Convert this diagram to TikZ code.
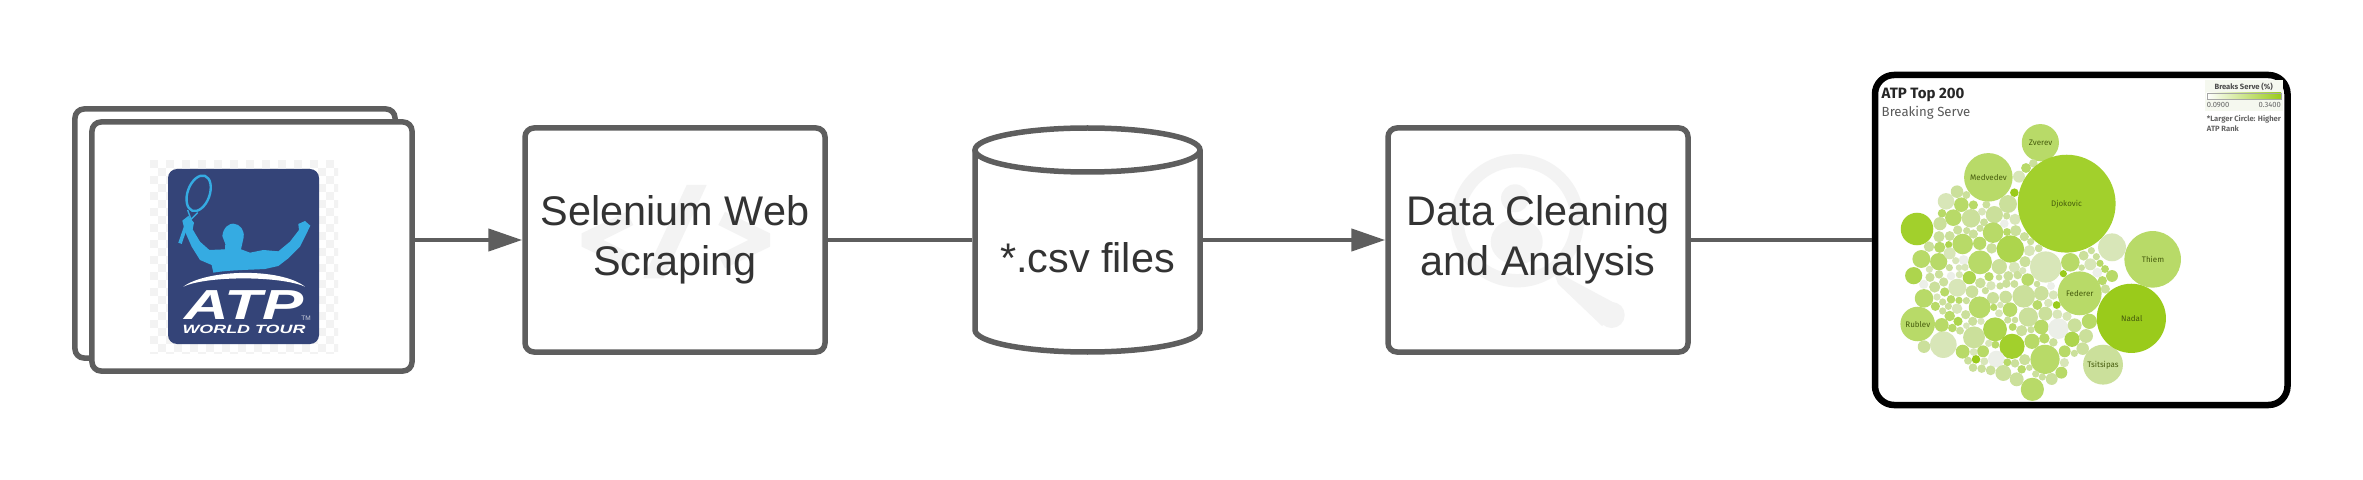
\documentclass[tikz,border=0pt]{standalone}
\usepackage{fontspec}
\setmainfont{Liberation Sans}
\newfontfamily\tabfont{Fira Sans}
\usetikzlibrary{arrows.meta}
\definecolor{linegray}{HTML}{5E5E5E}
\definecolor{ink}{HTML}{333333}
\definecolor{wmark}{HTML}{F3F3F3}
\definecolor{atpblue}{HTML}{344478}
\definecolor{atpsky}{HTML}{35ABE2}
\definecolor{c1}{HTML}{9ACB1B}
\definecolor{c2}{HTML}{A2D02C}
\definecolor{c2b}{HTML}{ADD54D}
\definecolor{c3}{HTML}{B8DA68}
\definecolor{c4}{HTML}{CBE09B}
\definecolor{c5}{HTML}{D8E6B8}
\definecolor{c6}{HTML}{ECEFE8}
\tikzset{
  boxnode/.style={draw=linegray,line width=5.5bp,fill=white,rounded corners=9bp,minimum width=300bp,minimum height=224bp,inner sep=0pt},
  cardnode/.style={boxnode,minimum width=320bp,minimum height=249bp},
  bigtext/.style={font=\fontsize{41.4bp}{50bp}\selectfont,text=ink,align=center,inner sep=0pt},
  flow/.style={draw=linegray,line width=4.5bp},
  flowarrow/.style={flow,-{Triangle[length=34bp,width=22bp]}},
  bublabel/.style={font=\tabfont\fontsize{8bp}{9bp}\selectfont,text=black!55!c1,inner sep=0pt},
  legtext/.style={font=\tabfont\fontsize{7.6bp}{10bp}\selectfont,text=black!60,inner sep=0pt},
}
\newcommand\bubs[3]{\foreach \X/\Y/\R/\C in {#3} {\fill[fill=\C] ({#1+\X/3},{#2+\Y/3}) circle [radius=(\R+0.8)/3*1bp];}}
\begin{document}
\begin{tikzpicture}[x=1bp,y=-1bp]
\useasboundingbox (0,0) rectangle (2363,480);
% cards
\node[cardnode] (back) at (235,233.5) {};
\node[cardnode] (front) at (252,246.5) {};
% logo
\begin{scope}
\clip (150,160) rectangle (338,353);
\foreach \i in {0,...,23} \foreach \j in {0,...,24} {
  \pgfmathparse{int(mod(\i+\j,2))}
  \ifnum\pgfmathresult=0 \fill[wmark] ({150+8*\i},{160+8*\j}) rectangle +(8,8); \fi
}
\end{scope}
\fill[atpblue,rounded corners=9bp] (168,169) rectangle (319,344);
\begin{scope}[shift={(150,160)},x=.3333bp,y=-.3333bp]
\draw[atpsky,line width=2.4bp,rotate around={-20:(146,100)}] (146,100) ellipse [x radius=11bp,y radius=18.5bp];
\draw[atpsky,line width=1.4bp] (113,150) -- (123,178) -- (143,158);
\draw[atpsky,line width=3.6bp] (116,175) -- (90,250);
\fill[atpsky] (97,182) -- (115,168) -- (132,188) -- (128,208) -- (150,245) -- (178,270) -- (225,268) -- (226,252) -- (217,228) .. controls (220,200) and (240,190) .. (250,191) .. controls (270,192) and (284,210) .. (281,232) -- (273,268) -- (300,278) -- (340,270) -- (385,274) -- (420,245) -- (447,210) -- (445,192) -- (465,183) -- (481,197) -- (470,220) -- (450,260) -- (415,295) -- (385,318) -- (345,327) .. controls (290,330) and (240,330) .. (190,338) -- (185,315) -- (150,300) -- (125,260) -- (105,215) -- cycle;
\fill[white] (100,380) .. controls (170,328) and (390,322) .. (465,380) .. controls (390,347) and (170,347) .. cycle;
\end{scope}
\node[font=\fontsize{42bp}{42bp}\selectfont\bfseries\itshape,text=white,xscale=1.47,inner sep=0pt] (atp) at (244,305) {ATP};
\node[font=\fontsize{12bp}{12bp}\selectfont\bfseries\itshape,text=white,xscale=1.49,inner sep=0pt] (tour) at (244,329.5) {WORLD TOUR};
\node[font=\fontsize{6.5bp}{7bp}\selectfont,text=white!75!atpblue,inner sep=0pt] (tm) at (306,318.5) {TM};
% Selenium box
\node[boxnode] (sel) at (675,240) {};
\fill[wmark] (581.7,233.3) -- (626.7,211.7) -- (633.3,225) -- (603.3,240) -- (633.3,255) -- (626.7,268.3) -- (581.7,246.7) -- cycle;
\fill[wmark] (770,233.3) -- (725,211.7) -- (718.3,225) -- (748.3,240) -- (718.3,255) -- (725,268.3) -- (770,246.7) -- cycle;
\fill[wmark] (686.7,185) -- (706.7,185) -- (663.3,278.3) -- (643.3,278.3) -- cycle;
\node[bigtext] (seltext) at (675,240) {Selenium Web\\Scraping};
% cylinder
\node[minimum width=225bp,minimum height=224bp,inner sep=0pt,line width=5.5bp] (csv) at (1087.5,240) {};
\path[draw=linegray,line width=5.5bp,fill=white] (975,150) -- (975,330) arc[start angle=180,end angle=360,x radius=112.5bp,y radius=22bp] -- (1200,150);
\path[draw=linegray,line width=5.5bp,fill=white] (1087.5,150) ellipse [x radius=112.5bp,y radius=22bp];
\node[bigtext] (csvtext) at (1087.5,258) {*.csv files};
% Data box
\node[boxnode] (data) at (1538,240) {};
\draw[wmark,line width=13.3bp] (1517.3,220.7) circle [radius=60bp];
\fill[wmark] (1515,198.3) circle [radius=14bp];
\fill[wmark] (1516.7,241.7) ellipse [x radius=26bp,y radius=23bp];
\fill[wmark] (1553,270) -- (1622,307) -- (1602,326) -- (1558,284) -- cycle;
\fill[wmark] (1611.7,315) circle [radius=13bp];
\node[bigtext] (datatext) at (1538,240) {Data Cleaning\\and Analysis};
% screenshot
\node[draw=black,line width=6.5bp,fill=white,rounded corners=19bp,minimum width=412.5bp,minimum height=330bp,inner sep=0pt] (shot) at (2081.25,240) {};
\bubs{1860}{60}{541/248/55/c3,385/352/72/c3,520/310/12/c4,498/324/14/c3,477/350/17/c5,463/398/12/c1,291/395/18/c4,319/405/11/c4,258/424/24/c5,304/434/21/c3,340/435/13/c3,379/434/11/c4,444/432/26/c4,246/460/12/c3,280/473/24/c3,333/475/27/c4,403/464/25/c4,366/455/11/c5,440/468/10/c4,465/478/16/c5,171/507/48/c2,240/491/19/c4,372/487/11/c4,433/491/12/c6,293/510/13/c4,399/518/30/c3,360/505/10/c4,320/512/10/c4,441/516/11/c3,467/512/16/c4,237/530/16/c4,269/528/14/c4,340/522/13/c4,493/530/13/c4,512/545/10/c4}
\bubs{2050}{60}{50/431/146/c2}
\bubs{1860}{230}{207/50/15/c4,239/52/16/c3,266/44/10/c2b,308/42/30/c3,359/40/19/c3,395/55/15/c4,451/57/40/c2b,536/55/11/c4,508/62/16/c5,184/87/26/c3,236/95/25/c3,269/70/17/c5,311/90/14/c6,287/92/10/c5,360/97/35/c3,418/110/22/c4,463/112/16/c5,495/95/16/c4,557/111/46/c5,631/97/27/c3,161/137/25/c2b,208/118/10/c5,210/142/13/c4,237/133/12/c4,268/113/10/c4,297/113/9/c5,315/112/10/c5,273/138/12/c6,298/134/10/c5,328/143/19/c2b,387/140/13/c3,417/142/9/c4,445/138/14/c4,473/135/12/c4,503/149/18/c3,488/122/10/c5,610/131/10/c1,191/163/13/c6,224/171/16/c4,251/156/13/c4,292/173/26/c5,361/159/15/c4,393/167/13/c5,420/168/10/c4,439/161/12/c4,463/162/11/c4,531/162/9/c4,573/168/11/c6,254/186/13/c3,192/205/27/c3,336/185/18/c4,376/182/10/c4,491/199/33/c4,544/190/21/c4,580/195/13/c5,231/201/10/c5,273/208/12/c3,297/211/10/c3,248/216/10/c4,319/212/10/c4,399/204/17/c4,437/201/18/c4,359/232/32/c3,226/229/13/c3,265/229/10/c4,291/236/15/c5,401/232/10/c3,421/225/9/c5,450/239/21/c3,532/225/14/c3,565/219/12/c5,590/225/11/c1,248/243/10/c4,417/250/11/c5,505/261/28/c4,556/251/20/c4,592/253/14/c5,621/259/13/c5,317/254/13/c4,269/258/15/c3,245/285/20/c3,294/274/13/c2b,338/274/13/c4,363/274/10/c5,443/270/10/c4,465/270/9/c4,458/291/11/c3,277/294/12/c3,300/302/11/c4,319/287/9/c5,405/298/35/c2b,544/291/21/c3,595/296/30/c6,644/286/20/c4,688/274/22/c3,485/302/16/c4,513/299/10/c4,342/322/32/c4,250/344/39/c5,192/350/18/c4,553/325/15/c3,516/334/22/c3,636/328/22/c2b,678/318/20/c4,580/337/12/c4,406/344/11/c3,456/349/37/c2,308/365/20/c3,369/364/17/c3,341/366/11/c5,386/340/10/c5,614/364/17/c3,668/356/18/c4,643/370/10/c4,324/392/11/c4,348/388/12/c1,373/394/11/c5,409/387/24/c6,494/389/16/c4,555/388/43/c3,442/397/11/c3,465/400/12/c4,613/398/13/c5,339/413/12/c4,365/416/12/c4,392/421/14/c4,430/429/23/c4,485/418/12/c3,508/413/9/c4,604/428/17/c3,527/432/10/c4,547/441/10/c4,575/447/17/c4,470/448/20/c4,517/478/34/c3,173/282/51/c3,659/190/65/c3}
\bubs{2050}{230}{159/404/59/c4,244/265/103/c1,308/88/84/c3,186/52/41/c5,101/77/14/c4,124/62/10/c4,139/80/10/c4,121/103/17/c5,150/100/10/c3,95/113/9/c4,165/117/11/c3,186/138/17/c3,142/128/14/c6,157/152/13/c3,166/177/13/c4}
\node[bublabel] (zverev) at (2040.6,142.6) {Zverev};
\node[bublabel] (medvedev) at (1988.5,177.3) {Medvedev};
\node[bublabel] (djokovic) at (2066.5,204) {Djokovic};
\node[bublabel] (rublev) at (1917.8,324.5) {Rublev};
\node[bublabel] (federer) at (2079.7,293.5) {Federer};
\node[bublabel] (nadal) at (2131.7,318.5) {Nadal};
\node[bublabel] (thiem) at (2153,259.3) {Thiem};
\node[bublabel] (tsitsipas) at (2103,365) {Tsitsipas};
\node[anchor=base west,inner sep=0pt,font=\tabfont\bfseries\fontsize{15bp}{16bp}\selectfont,text=black!85] (title) at (1881.5,99) {ATP Top 200};
\node[anchor=base west,inner sep=0pt,font=\tabfont\fontsize{13.2bp}{14bp}\selectfont,text=black!65] (subtitle) at (1881.5,116.5) {Breaking Serve};
\fill[c6!60!c4!30!white] (2205,80) rectangle (2283,110.7);
\shade[left color=white,right color=c1] (2206.7,92.7) rectangle (2281,99.3);
\draw[black!35,line width=.3bp] (2206.7,92.7) rectangle (2281,99.3);
\node[legtext,font=\tabfont\bfseries\fontsize{7.6bp}{9bp}\selectfont,text=black!70] (legtitle) at (2243.7,87.3) {Breaks Serve (\%)};
\node[legtext,anchor=base west] (legmin) at (2206.7,108) {0.0900};
\node[legtext,anchor=base east] (legmax) at (2281,108) {0.3400};
\node[legtext,font=\tabfont\bfseries\fontsize{7.6bp}{10bp}\selectfont,anchor=north west,align=left,text=black!60] (lnote) at (2206.7,115) {*Larger Circle: Higher\\ATP Rank};
% connectors
\draw[flowarrow] (front.east |- sel.west) -- (sel.west);
\draw[flow] (sel.east) -- (csv.west);
\draw[flowarrow] (csv.east) -- (data.west);
\draw[flow] (data.east) -- (shot.west);
\end{tikzpicture}
\end{document}
